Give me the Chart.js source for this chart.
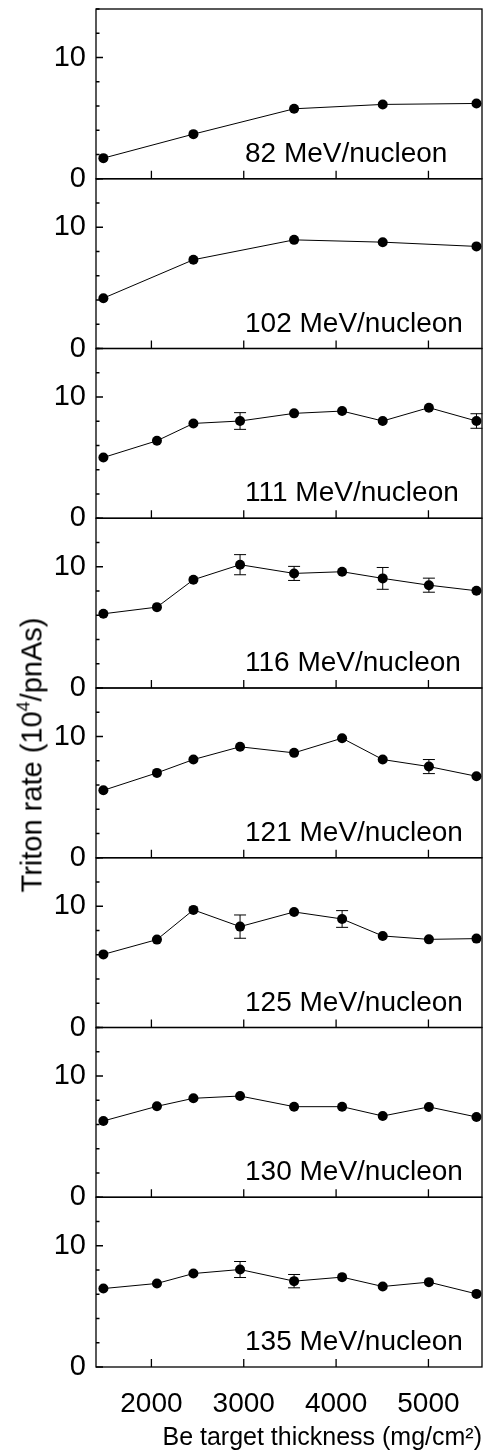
<!DOCTYPE html>
<html>
<head>
<meta charset="utf-8">
<script src="https://cdn.jsdelivr.net/npm/chart.js@4.4.0/dist/chart.umd.min.js"></script>
<style>
  html, body { margin: 0; padding: 0; background: #fff; }
  #wrap { position: relative; width: 487px; height: 1454px; }
  #ytitle {
    position: absolute; left: 32px; top: 755px;
    transform: translate(-50%, -50%) rotate(-90deg);
    font: 29px "Liberation Sans", Arial, sans-serif;
    white-space: nowrap; color: #000; line-height: 1;
  }
  #ytitle sup { font-size: 18px; vertical-align: 0; position: relative; top: -12px; }
</style>
</head>
<body>
<div id="wrap">
  <canvas id="myChart" width="487" height="1454"></canvas>
  <div id="ytitle">Triton rate (10<sup>4</sup>/pnAs)</div>
</div>
<script>
// thickness values (mg/cm2)
const thicknessShort = [1480, 2455, 3545, 4505, 5520];
const thicknessLong = [1480, 2060, 2455, 2960, 3545, 4065, 4505, 5005, 5520];

// triton rate per beam energy (10^4/pnAs), errors 0 = no bar drawn
const rate82  = [1.70, 3.68, 5.77, 6.13, 6.21];
const rate102 = [4.15, 7.32, 8.96, 8.77, 8.42];
const rate111 = [5.01, 6.39, 7.82, 8.02, 8.65, 8.84, 8.02, 9.12, 8.02];
const err111  = [0, 0, 0, 0.69, 0, 0, 0, 0, 0.60];
const rate116 = [6.12, 6.67, 8.93, 10.17, 9.45, 9.59, 9.04, 8.48, 8.02];
const err116  = [0, 0, 0, 0.83, 0.58, 0, 0.90, 0.58, 0];
const rate121 = [5.56, 7.00, 8.10, 9.15, 8.65, 9.86, 8.10, 7.52, 6.72];
const err121  = [0, 0, 0, 0, 0, 0, 0, 0.58, 0];
const rate125 = [6.03, 7.25, 9.70, 8.32, 9.53, 8.95, 7.55, 7.27, 7.33];
const err125  = [0, 0, 0, 0.96, 0, 0.69, 0, 0, 0];
const rate130 = [6.29, 7.50, 8.16, 8.35, 7.47, 7.47, 6.70, 7.45, 6.62];
const rate135 = [6.47, 6.89, 7.71, 8.04, 7.08, 7.41, 6.64, 7.00, 6.03];
const err135  = [0, 0, 0, 0.66, 0.55, 0, 0, 0, 0];

const xTicks = [2000, 3000, 4000, 5000];
const yTicks = [0, 2, 4, 6, 8, 10, 12, 14];
const yLabelled = [0, 10];

const panels = [
  { label: '82 MeV/nucleon',  x: thicknessShort, y: rate82 },
  { label: '102 MeV/nucleon', x: thicknessShort, y: rate102 },
  { label: '111 MeV/nucleon', x: thicknessLong, y: rate111, err: err111 },
  { label: '116 MeV/nucleon', x: thicknessLong, y: rate116, err: err116 },
  { label: '121 MeV/nucleon', x: thicknessLong, y: rate121, err: err121 },
  { label: '125 MeV/nucleon', x: thicknessLong, y: rate125, err: err125 },
  { label: '130 MeV/nucleon', x: thicknessLong, y: rate130 },
  { label: '135 MeV/nucleon', x: thicknessLong, y: rate135, err: err135 }
];

Chart.defaults.font.family = '"Liberation Sans", Arial, sans-serif';
Chart.defaults.color = '#000';

const datasets = panels.map((p, i) => ({
  label: p.label,
  data: p.x.map((v, j) => ({ x: v, y: p.y[j] })),
  yAxisID: 'p' + i,
  borderColor: '#000',
  borderWidth: 1,
  backgroundColor: '#000',
  pointRadius: 5,
  pointBorderWidth: 0,
  pointBackgroundColor: '#000',
  clip: false
}));

let scales = {
  x: {
    type: 'linear', min: 1400, max: 5580,
    grid: { display: false }, border: { display: false },
    afterBuildTicks: s => { s.ticks = xTicks.map(v => ({ value: v })); },
    ticks: { autoSkip: false, padding: 12, font: { size: 28 }, maxRotation: 0, callback: v => String(v) },
    title: { display: true, text: 'Be target thickness (mg/cm²)', align: 'end', font: { size: 25 }, padding: { top: 0, bottom: 1 } },
    afterFit: s => { s.height = 87; s.paddingLeft = 0; s.paddingRight = 0; }
  }
};
// stacked panels: last defined ends on top, so add bottom panel first
for (let i = panels.length - 1; i >= 0; i--) {
  scales['p' + i] = {
    type: 'linear', position: 'left', stack: 'panels', stackWeight: 1,
    min: 0, max: 14,
    grid: { display: false }, border: { display: false },
    afterBuildTicks: s => { s.ticks = yTicks.map(v => ({ value: v })); },
    ticks: {
      autoSkip: false, padding: 2, font: { size: 29 },
      callback: v => yLabelled.includes(v) ? String(v) : ''
    },
    afterFit: s => { s.width = 96; s.paddingTop = 0; s.paddingBottom = 0; }
  };
}

const framePlugin = {
  id: 'frame',
  afterDatasetsDraw(chart) {
    const ctx = chart.ctx;
    const xs = chart.scales.x;
    ctx.save();
    ctx.strokeStyle = '#000';
    ctx.lineWidth = 1;
    panels.forEach((p, i) => {
      if (!p.err) return;
      const ys = chart.scales['p' + i];
      p.err.forEach((e, j) => {
        if (!e) return;
        const px = xs.getPixelForValue(p.x[j]);
        const top = ys.getPixelForValue(p.y[j] + e);
        const bot = ys.getPixelForValue(p.y[j] - e);
        ctx.beginPath();
        ctx.moveTo(px, top); ctx.lineTo(px, bot);
        ctx.moveTo(px - 6, top); ctx.lineTo(px + 6, top);
        ctx.moveTo(px - 6, bot); ctx.lineTo(px + 6, bot);
        ctx.stroke();
      });
    });
    ctx.restore();
  },
  afterDraw(chart) {
    const ctx = chart.ctx;
    const area = chart.chartArea;
    const xs = chart.scales.x;
    ctx.save();
    ctx.strokeStyle = '#000';
    ctx.lineWidth = 1.3;
    panels.forEach((p, i) => {
      const ys = chart.scales['p' + i];
      ctx.strokeRect(area.left, ys.top, area.right - area.left, ys.bottom - ys.top);
      ctx.beginPath();
      yTicks.forEach(v => {
        const py = ys.getPixelForValue(v);
        const len = yLabelled.includes(v) ? 7 : 3.5;
        ctx.moveTo(area.left, py); ctx.lineTo(area.left + len, py);
      });
      xTicks.forEach(v => {
        const px = xs.getPixelForValue(v);
        ctx.moveTo(px, ys.bottom); ctx.lineTo(px, ys.bottom - 8);
      });
      ctx.stroke();
      ctx.fillStyle = '#000';
      ctx.font = '28px "Liberation Sans", Arial, sans-serif';
      ctx.textBaseline = 'alphabetic';
      ctx.fillText(p.label, area.left + 149, ys.bottom - 17);
    });
    ctx.restore();
  }
};

let myChart = new Chart(document.getElementById('myChart').getContext('2d'), {
  type: 'line',
  data: { datasets: datasets },
  options: {
    responsive: false,
    devicePixelRatio: 1,
    animation: false,
    layout: { padding: { top: 9, right: 2, left: 0, bottom: 0 } },
    plugins: { legend: { display: false }, tooltip: { enabled: false } },
    scales: scales
  },
  plugins: [framePlugin]
});
</script>
</body>
</html>
